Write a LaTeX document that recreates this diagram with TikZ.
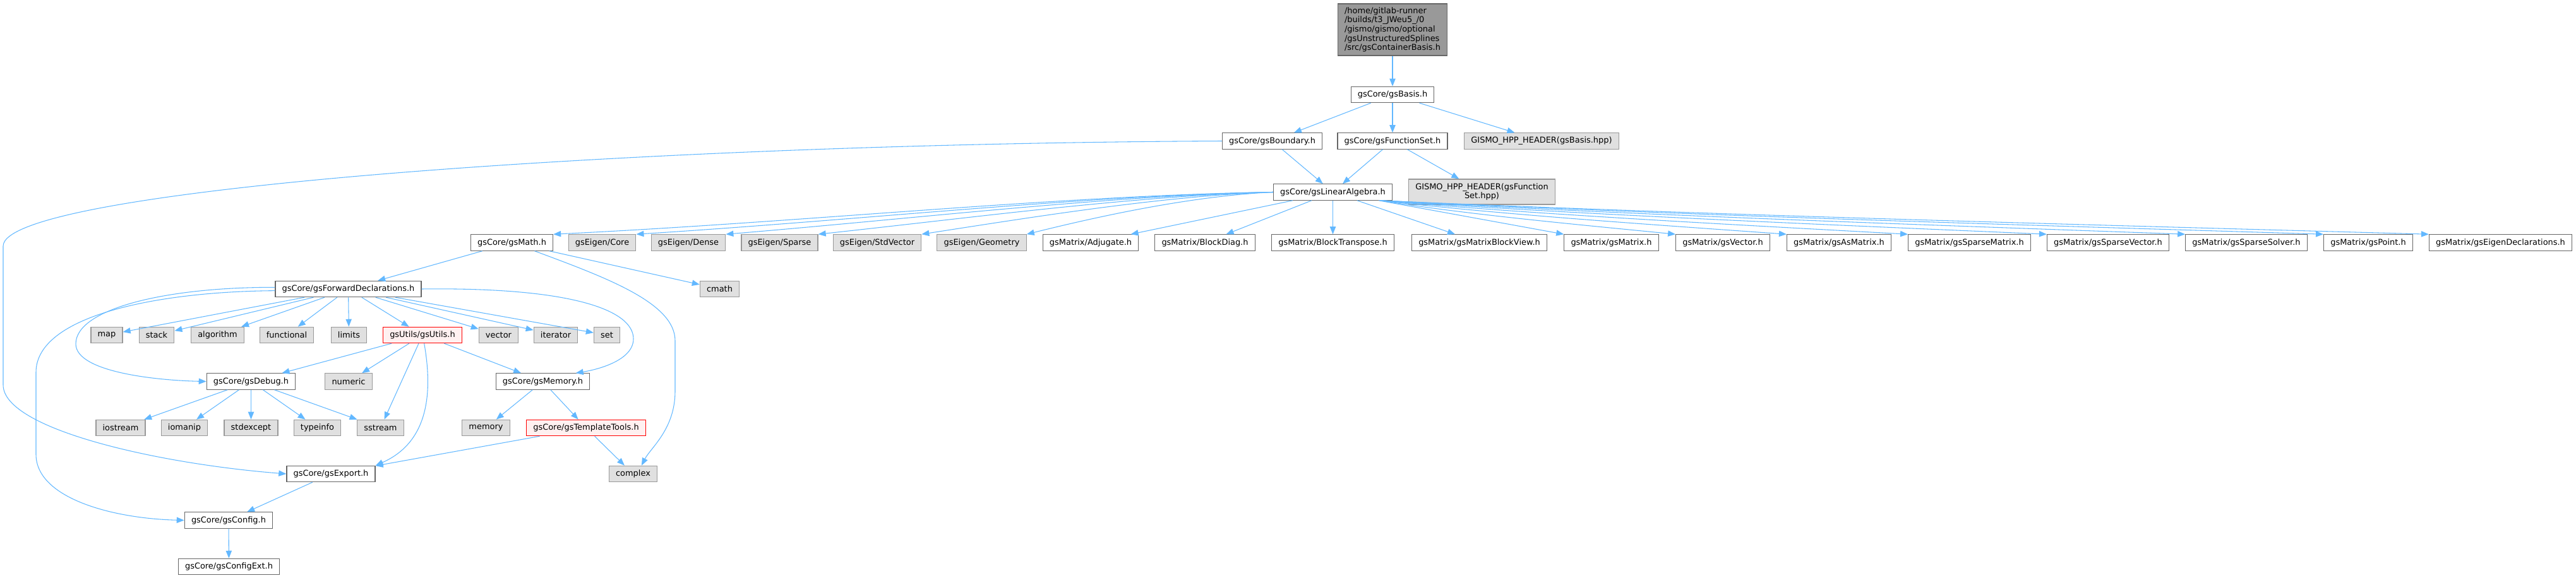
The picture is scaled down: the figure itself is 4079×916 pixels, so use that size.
\documentclass[tikz,border=0pt]{standalone}
\usepackage{fontspec}
\setmainfont{DejaVu Sans}
\usetikzlibrary{arrows.meta}
\definecolor{edgeblue}{HTML}{63B8FF}
\definecolor{boxgray}{HTML}{666666}
\definecolor{sysgray}{HTML}{999999}
\definecolor{sysfill}{HTML}{E0E0E0}
\definecolor{rootfill}{HTML}{999999}
\definecolor{redfill}{HTML}{FFF0F0}
\begin{document}
\begin{tikzpicture}[x=0.75pt,y=-0.75pt,
    every node/.style={font=\fontsize{9.7}{11}\selectfont,inner xsep=8pt,inner ysep=3pt,minimum height=19pt,line width=0.9pt},
    hdr/.style={draw=boxgray,fill=white},
    sys/.style={draw=sysgray,fill=sysfill},
    redhdr/.style={draw=red,fill=redfill},
    rootbox/.style={draw=boxgray,fill=rootfill,align=left,inner ysep=4pt},
    inc/.style={draw=edgeblue,line width=0.8pt,-{Triangle[length=9pt,width=7pt]}}]
    \useasboundingbox (0,0) rectangle (4079,916);
    \node[rootbox] (root) at (2205,47) {/home/gitlab-runner\\/builds/t3\_JWeu5\_/0\\/gismo/gismo/optional\\/gsUnstructuredSplines\\/src/gsContainerBasis.h};
    \node[hdr] (basis) at (2205,150) {gsCore/gsBasis.h};
    \node[hdr] (bnd) at (2014.5,223.5) {gsCore/gsBoundary.h};
    \node[hdr] (fset) at (2205,223.5) {gsCore/gsFunctionSet.h};
    \node[sys] (bhpp) at (2441,223.5) {GISMO\_HPP\_HEADER(gsBasis.hpp)};
    \node[hdr] (la) at (2110.5,304.5) {gsCore/gsLinearAlgebra.h};
    \node[sys,align=center,minimum height=30pt] (fshpp) at (2346.5,304) {GISMO\_HPP\_HEADER(gsFunction\\Set.hpp)};
    \node[hdr] (math) at (810.5,384.5) {gsCore/gsMath.h};
    \node[sys] (ecore) at (953.5,384.5) {gsEigen/Core};
    \node[sys] (edense) at (1090,384.5) {gsEigen/Dense};
    \node[sys] (esparse) at (1234.5,384.5) {gsEigen/Sparse};
    \node[sys] (estdvec) at (1389,384.5) {gsEigen/StdVector};
    \node[sys] (egeom) at (1554.5,384.5) {gsEigen/Geometry};
    \node[hdr] (adj) at (1727,384.5) {gsMatrix/Adjugate.h};
    \node[hdr] (bdiag) at (1908,384.5) {gsMatrix/BlockDiag.h};
    \node[hdr] (btrans) at (2110.5,384.5) {gsMatrix/BlockTranspose.h};
    \node[hdr] (mbview) at (2342.5,384.5) {gsMatrix/gsMatrixBlockView.h};
    \node[hdr] (mat) at (2551.5,384.5) {gsMatrix/gsMatrix.h};
    \node[hdr] (vec) at (2728,384.5) {gsMatrix/gsVector.h};
    \node[hdr] (asmat) at (2912,384.5) {gsMatrix/gsAsMatrix.h};
    \node[hdr] (spmat) at (3118.5,384.5) {gsMatrix/gsSparseMatrix.h};
    \node[hdr] (spvec) at (3338,384.5) {gsMatrix/gsSparseVector.h};
    \node[hdr] (spsolv) at (3557,384.5) {gsMatrix/gsSparseSolver.h};
    \node[hdr] (point) at (3750,384.5) {gsMatrix/gsPoint.h};
    \node[hdr] (eigdecl) at (3959.5,384.5) {gsMatrix/gsEigenDeclarations.h};
    \node[hdr] (fwd) at (551.5,458) {gsCore/gsForwardDeclarations.h};
    \node[sys] (cmath) at (1139.5,458) {cmath};
    \node[sys] (map) at (169,531) {map};
    \node[sys] (stack) at (248,531) {stack};
    \node[sys] (algo) at (344.5,531) {algorithm};
    \node[sys] (func) at (454,531) {functional};
    \node[sys] (limits) at (552.5,531) {limits};
    \node[redhdr] (utils) at (669,531) {gsUtils/gsUtils.h};
    \node[sys] (vector) at (789.5,531) {vector};
    \node[sys] (iter) at (880,531) {iterator};
    \node[sys] (set) at (961,531) {set};
    \node[hdr] (debug) at (397.5,604.5) {gsCore/gsDebug.h};
    \node[sys] (numeric) at (552,604.5) {numeric};
    \node[hdr] (memory) at (859.5,604.5) {gsCore/gsMemory.h};
    \node[sys] (iostream) at (191,678) {iostream};
    \node[sys] (iomanip) at (292,678) {iomanip};
    \node[sys] (stdexc) at (397.5,678) {stdexcept};
    \node[sys] (typeinfo) at (502.5,678) {typeinfo};
    \node[sys] (sstream) at (602.5,678) {sstream};
    \node[sys] (stdmem) at (769.5,678) {memory};
    \node[redhdr] (ttools) at (928,678) {gsCore/gsTemplateTools.h};
    \node[hdr] (export) at (524,751) {gsCore/gsExport.h};
    \node[sys] (complex) at (1002.5,751) {complex};
    \node[hdr] (config) at (362,824.5) {gsCore/gsConfig.h};
    \node[hdr] (cfgext) at (362.5,898) {gsCore/gsConfigExt.h};

    \draw[inc] (root) -- (basis);
    \draw[inc] (basis) -- (bnd);
    \draw[inc] (basis) -- (fset);
    \draw[inc] (basis) -- (bhpp);
    \draw[inc] (bnd) -- (la);
    \draw[inc] (fset) -- (la);
    \draw[inc] (fset) -- (fshpp);
    \draw[inc] (bnd.west) .. controls (1000,228) and (5,300) .. (5,390) -- (5,610)
        .. controls (5,680) and (250,735) .. (export.west);
    \draw[inc] (la.west) .. controls (1674,310) and (1275,352) .. (math.north east);
    \draw[inc] (la.west) .. controls (1713,310) and (1360,349) .. (ecore.north east);
    \draw[inc] (la.west) .. controls (1756,310) and (1453,346) .. (edense.north east);
    \draw[inc] (la.west) .. controls (1800,310) and (1548,344) .. (esparse.north east);
    \draw[inc] (la.west) .. controls (1849,310) and (1654,341) .. (estdvec.north east);
    \draw[inc] (la.west) .. controls (1899,310) and (1763,337) .. (egeom.north east);
    \draw[inc] (la) -- (adj);
    \draw[inc] (la) -- (bdiag);
    \draw[inc] (la) -- (btrans);
    \draw[inc] (la) -- (mbview);
    \draw[inc] (la) -- (mat.north west);
    \draw[inc] ([xshift=-15pt]la.south east) .. controls (2325,340) and (2489,355) .. (vec.north west);
    \draw[inc] ([xshift=-15pt]la.south east) .. controls (2378,340) and (2603,355) .. (asmat.north west);
    \draw[inc] ([xshift=-15pt]la.south east) .. controls (2436,340) and (2728,355) .. (spmat.north west);
    \draw[inc] ([xshift=-15pt]la.south east) .. controls (2502,340) and (2871,355) .. (spvec.north west);
    \draw[inc] ([xshift=-15pt]la.south east) .. controls (2568,340) and (3014,355) .. (spsolv.north west);
    \draw[inc] ([xshift=-15pt]la.south east) .. controls (2633,340) and (3156,355) .. (point.north west);
    \draw[inc] ([xshift=-15pt]la.south east) .. controls (2683,340) and (3265,355) .. (eigdecl.north west);
    \draw[inc] (math) -- (fwd);
    \draw[inc] (math) -- (cmath);
    \draw[inc] ([xshift=27pt]math.south) .. controls (960,440) and (1069,480) .. (1069,540) -- (1069,620)
        .. controls (1069,680) and (1030,710) .. ([xshift=-19pt]complex.north east);
    \foreach \t in {map,stack,algo,func,limits,utils,vector,iter,set}
        \draw[inc] (fwd) -- (\t);
    \draw[inc] ([yshift=2pt]fwd.west) .. controls (260,455) and (120,490) .. (120,545)
        .. controls (120,590) and (250,603) .. (debug.west);
    \draw[inc] ([yshift=-2pt]fwd.west) .. controls (250,462) and (57,500) .. (57,590) -- (57,720)
        .. controls (57,790) and (180,822) .. (config.west);
    \draw[inc] (fwd.east) .. controls (900,455) and (1003,490) .. (1003,537)
        .. controls (1003,570) and (950,585) .. ([xshift=-17pt]memory.north east);
    \foreach \t in {debug,numeric,sstream,memory}
        \draw[inc] (utils) -- (\t);
    \draw[inc] ([xshift=2pt]utils.south) .. controls (685,620) and (680,700) .. (export.north east);
    \foreach \t in {iostream,iomanip,stdexc,typeinfo,sstream}
        \draw[inc] (debug) -- (\t);
    \draw[inc] (memory) -- (stdmem);
    \draw[inc] (memory) -- (ttools);
    \draw[inc] (ttools) -- (export);
    \draw[inc] (ttools) -- (complex);
    \draw[inc] (export) -- (config);
    \draw[inc] (config) -- (cfgext);
\end{tikzpicture}
\end{document}
